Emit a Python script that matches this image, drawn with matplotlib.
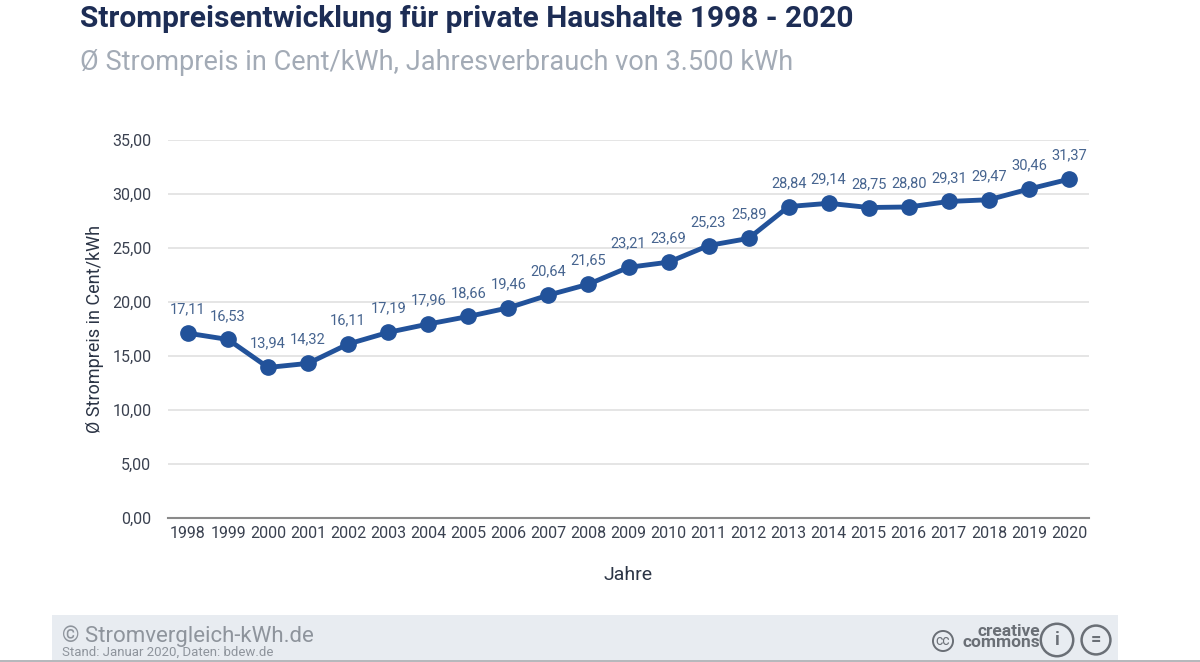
import matplotlib
matplotlib.use("Agg")
import matplotlib.pyplot as plt
import matplotlib.patches as mpatches
import numpy as np

plt.rcParams["font.family"] = ["Roboto", "DejaVu Sans"]

years = [str(y) for y in range(1998, 2021)]
prices = [17.11, 16.53, 13.94, 14.32, 16.11, 17.19, 17.96, 18.66, 19.46, 20.64,
          21.65, 23.21, 23.69, 25.23, 25.89, 28.84, 29.14, 28.75, 28.80, 29.31,
          29.47, 30.46, 31.37]
yticks = [0, 5, 10, 15, 20, 25, 30, 35]

title = "Strompreisentwicklung für private Haushalte 1998 - 2020"
subtitle = "Ø Strompreis in Cent/kWh, Jahresverbrauch von 3.500 kWh"
line_color = "#22529a"
label_color = "#46648f"
tick_color = "#3a4150"
logo_color = "#6a6f76"


def fmt(v):
    return f"{v:.2f}".replace(".", ",")


fig = plt.figure(figsize=(12, 6.62), dpi=100)
ax = fig.add_axes([0.14, 0.2175, 0.7675, 0.571])

x = np.arange(len(years))
ax.plot(x, prices, color=line_color, lw=3.5, marker="o", ms=11,
        mfc=line_color, mec=line_color, zorder=3, clip_on=False)
for xi, v in zip(x, prices):
    ax.annotate(fmt(v), (xi, v), xytext=(0, 12), textcoords="offset points",
                ha="center", va="bottom", fontsize=10.5, color=label_color)

ax.set_xlim(-0.5, len(years) - 0.5)
ax.set_ylim(0, 35)
ax.set_yticks(yticks)
ax.set_yticklabels([fmt(v) for v in yticks])
ax.set_xticks(x)
ax.set_xticklabels(years)
ax.tick_params(axis="both", length=0, labelsize=11.5, colors=tick_color)
ax.tick_params(axis="y", pad=12)
ax.tick_params(axis="x", pad=6)
ax.grid(axis="y", color="#e3e3e3", lw=1.3)
ax.set_axisbelow(True)
for s in ["top", "right", "left"]:
    ax.spines[s].set_visible(False)
ax.spines["bottom"].set_color("#8a8a8a")
ax.spines["bottom"].set_linewidth(1.5)

ax.set_ylabel("Ø Strompreis in Cent/kWh", fontsize=13, color="#2b3445", labelpad=6)
ax.set_xlabel("Jahre", fontsize=14, color="#2b3445", labelpad=18)

fig.text(80 / 1200, 1 - 19 / 662, title, fontsize=21.5, fontweight="bold",
         color="#1d2d55", va="center", ha="left")
fig.text(80 / 1200, 1 - 62 / 662, subtitle, fontsize=19.5,
         color="#a3abb6", va="center", ha="left")

# footer band
fig.patches.append(mpatches.Rectangle((52 / 1200, 0), (1118 - 52) / 1200, 47 / 662,
                                      transform=fig.transFigure, facecolor="#e8ecf1",
                                      edgecolor="none", zorder=0))
fig.patches.append(mpatches.Rectangle((0, 0), 1, 2 / 662, transform=fig.transFigure,
                                      facecolor="#b5b8bc", edgecolor="none", zorder=1))
fig.text(62 / 1200, 1 - 636 / 662, "© Stromvergleich-kWh.de", fontsize=16,
         color="#8e949c", va="center", ha="left")
fig.text(62 / 1200, 3 / 662, "Stand: Januar 2020, Daten: bdew.de", fontsize=9.5,
         color="#8e949c", va="bottom", ha="left")
fig.text(1040 / 1200, 1 - 637 / 662, "creative\ncommons", fontsize=12.5,
         fontweight="bold", color=logo_color, va="center", ha="right", linespacing=0.72)
fig.text(943 / 1200, 1 - 641 / 662, "cc", fontsize=10, color=logo_color, va="center",
         ha="center", bbox=dict(boxstyle="circle,pad=0.2", fc="none", ec=logo_color, lw=1.4))
fig.text(1057 / 1200, 1 - 640 / 662, "i", fontsize=13, fontweight="bold", color=logo_color,
         va="center", ha="center", bbox=dict(boxstyle="circle,pad=0.4", fc="none", ec=logo_color, lw=1.8))
fig.text(1096 / 1200, 1 - 640 / 662, "=", fontsize=13, fontweight="bold", color=logo_color,
         va="center", ha="center", bbox=dict(boxstyle="circle,pad=0.3", fc="none", ec=logo_color, lw=1.8))

fig.savefig("out.png", dpi=100)
